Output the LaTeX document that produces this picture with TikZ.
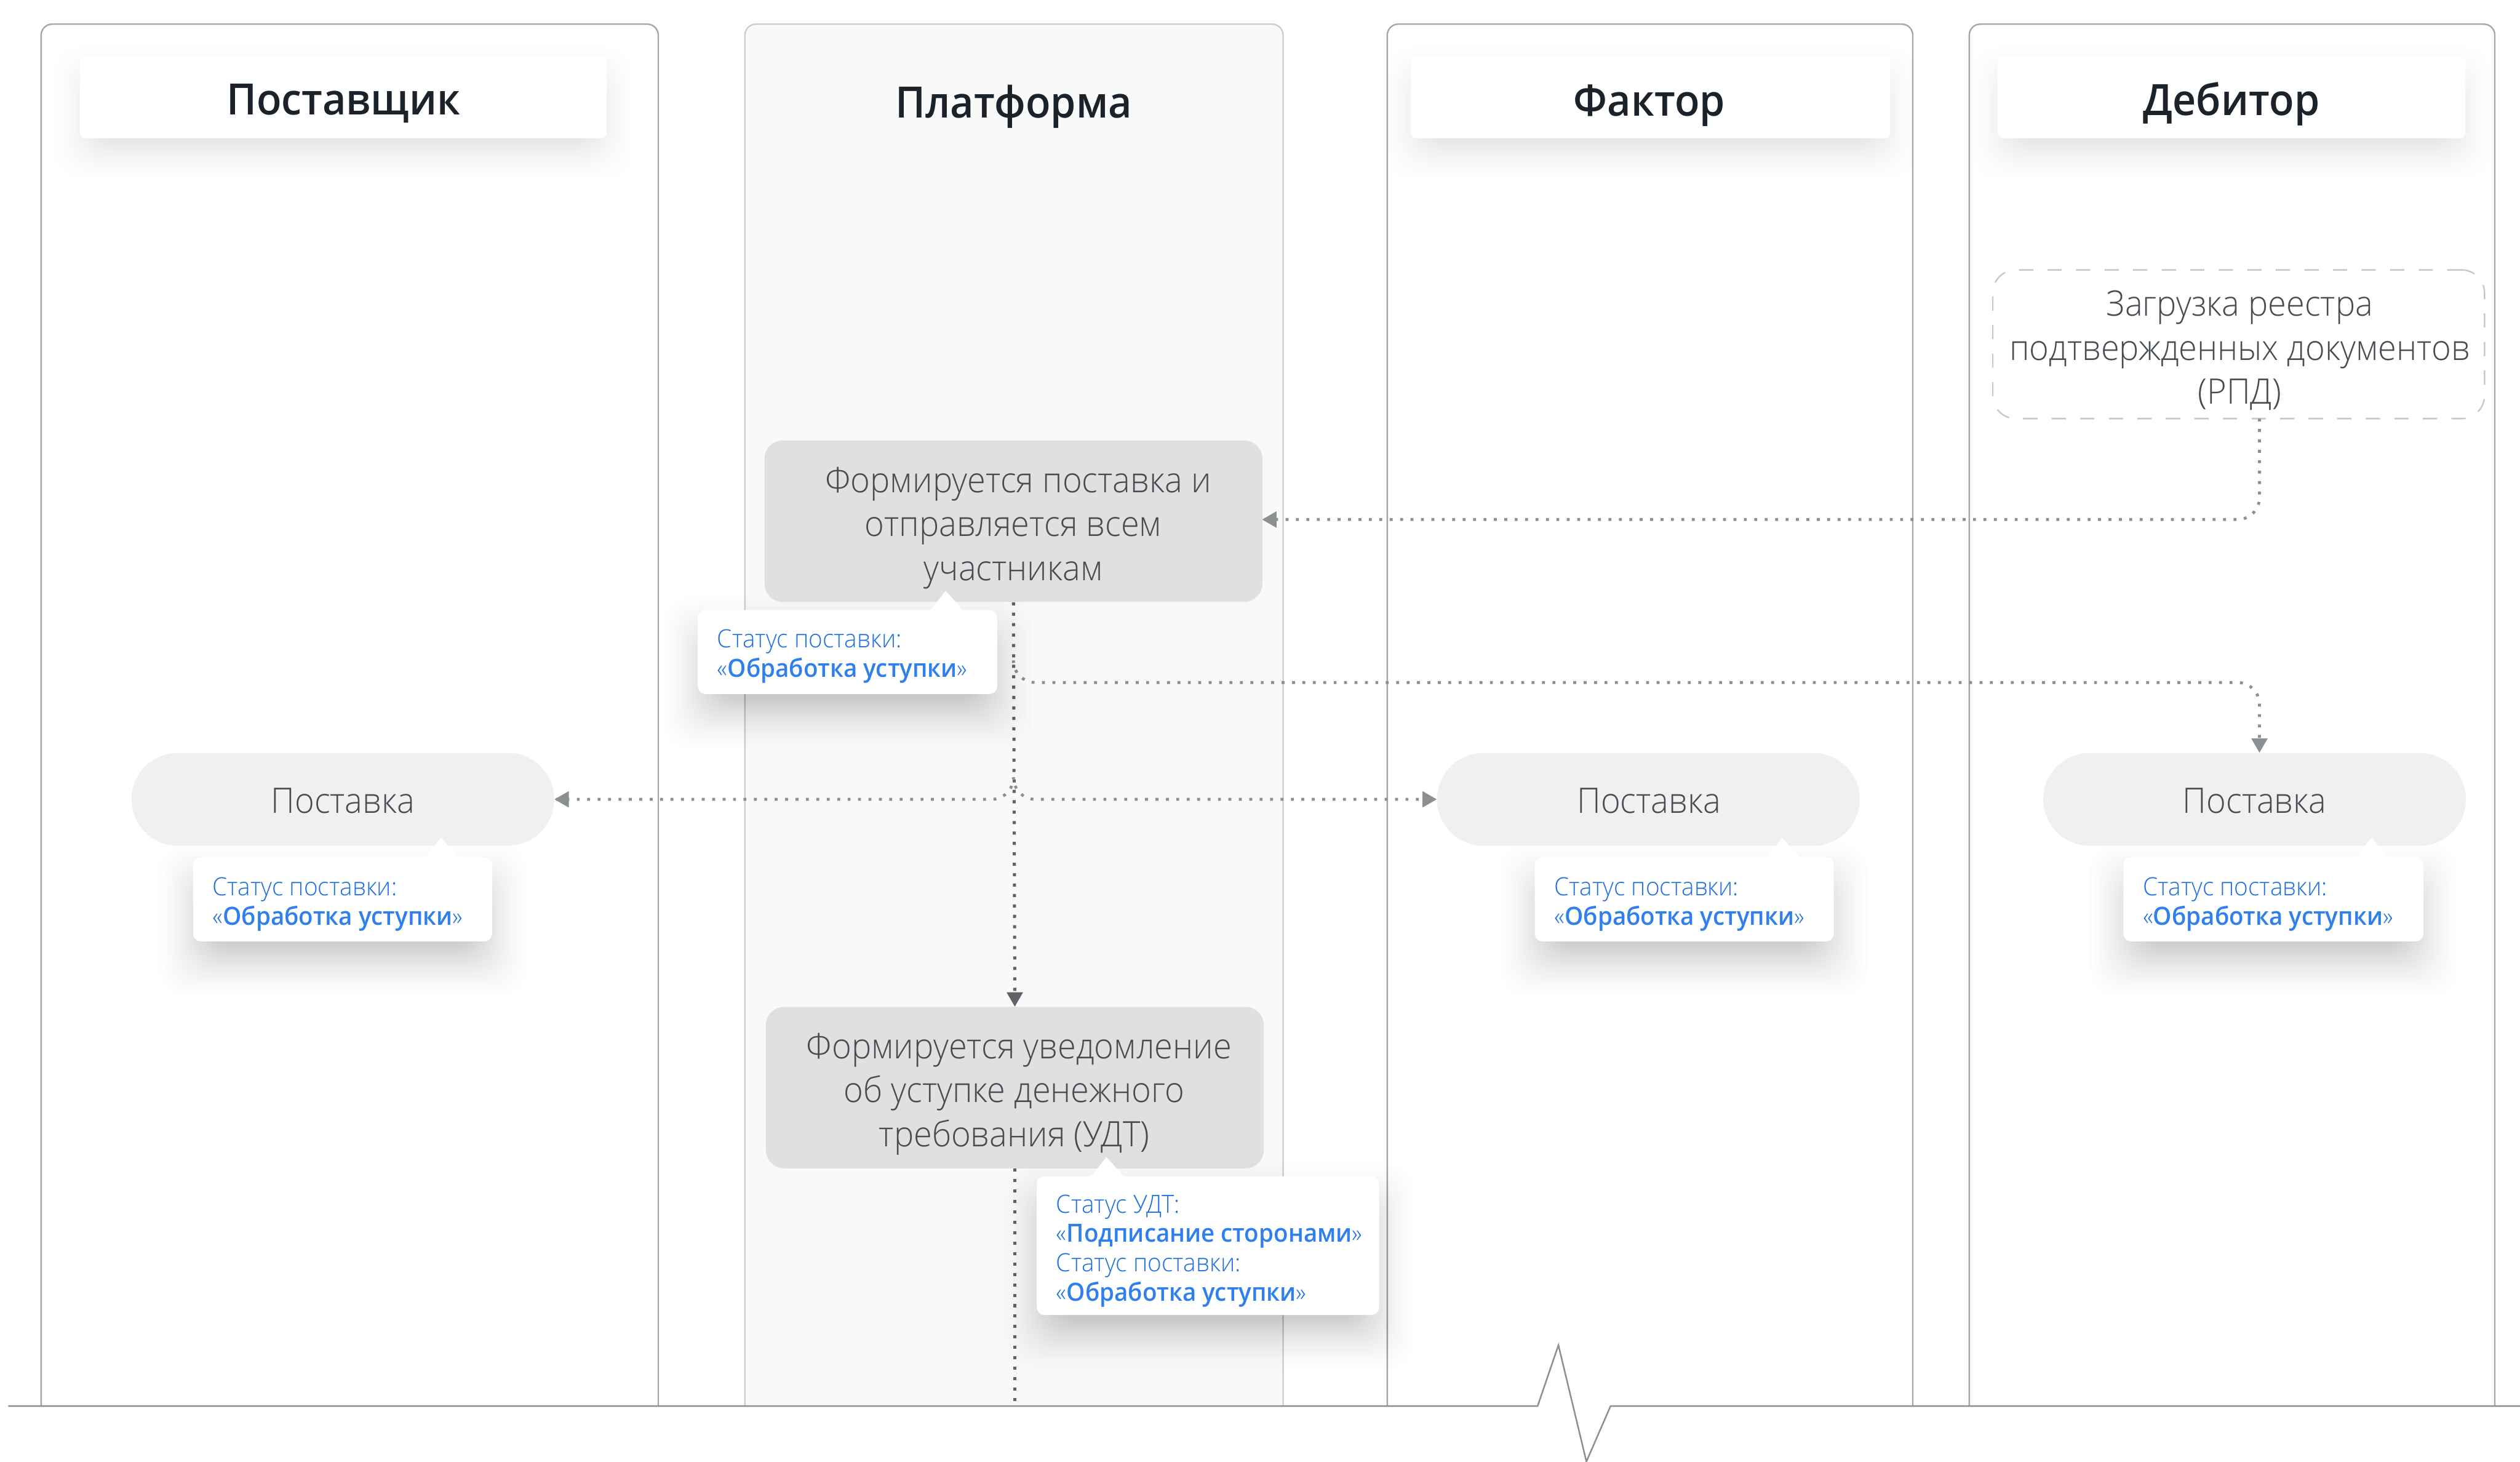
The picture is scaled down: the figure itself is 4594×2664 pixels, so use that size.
\documentclass[tikz,border=0pt]{standalone}
\usepackage{fontspec}
\usetikzlibrary{calc}
\setmainfont{Open Sans}
\newfontfamily\lightf[FakeStretch=0.95]{Open Sans Light}
\newfontfamily\semif[FakeStretch=0.945]{Open Sans Semibold}
\definecolor{lanecol}{HTML}{A4A6A7}
\definecolor{lanecolb}{HTML}{CDCDCD}
\definecolor{lanefill}{HTML}{F9F9F9}
\definecolor{boxfill}{HTML}{E0E0E0}
\definecolor{pillfill}{HTML}{F0F0F0}
\definecolor{dashcol}{HTML}{C8C8C8}
\definecolor{bodytext}{HTML}{464C51}
\definecolor{headtext}{HTML}{1B2229}
\definecolor{bluetext}{HTML}{1F6FE0}
\definecolor{bluesemi}{HTML}{2F7FEC}
\definecolor{dotgray}{HTML}{8C8F91}
\definecolor{dotdark}{HTML}{5F6368}
\tikzset{
  x=0.01cm,y=-0.01cm,
  lane/.style={draw=lanecol,line width=0.75pt,rounded corners=0.2cm},
  headbox/.style={fill=white,rounded corners=0.1cm,minimum width=#1*0.01cm,minimum height=1.5cm,inner sep=0pt},
  headlabel/.style={font=\semif\fontsize{22.4}{26}\selectfont,text=headtext,inner sep=0pt},
  bodylabel/.style={font=\lightf\fontsize{18.2}{22.8}\selectfont,text=bodytext,align=center,inner sep=0pt},
  grayproc/.style={fill=boxfill,rounded corners=0.33cm,minimum width=9.07cm,minimum height=2.94cm,inner sep=0pt},
  dashproc/.style={draw=dashcol,line width=0.75pt,dash pattern=on 7.4pt off 7.4pt,rounded corners=0.42cm,minimum width=8.96cm,minimum height=2.71cm,inner sep=0pt},
  pill/.style={fill=pillfill,rounded corners=0.845cm,minimum width=7.7cm,minimum height=1.69cm,inner sep=0pt},
  calltext/.style={font=\lightf\fontsize{13}{15.2}\selectfont,text=bluetext,align=left,inner sep=0pt,anchor=west},
  dotline/.style={draw=dotgray,line width=1.5pt,dash pattern=on 1.5pt off 3.9pt,rounded corners=0.4cm},
  dotdarkline/.style={draw=dotdark,line width=1.6pt,dash pattern=on 1.6pt off 3.8pt},
  tipgray/.style={fill=dotgray,draw=none},
  tipdark/.style={fill=dotdark,draw=none},
}
% soft shadow: x1 y1 x2 y2 dy spread opacity-per-layer
\newcommand{\softshade}[7]{%
  \foreach \t in {1,...,24}{%
    \pgfmathsetmacro{\ss}{#6-1.33*#6*sqrt(\t/24)}%
    \fill[black,fill opacity=#7,rounded corners=0.5cm]
      (#1-\ss,#2+#5-\ss) rectangle (#3+\ss,#4+#5+\ss);
  }%
}
% callout body: x1 y1 x2 y2 tipx tipy
\newcommand{\callbody}[6]{%
  \softshade{#1}{#2}{#3}{#4}{38}{85}{0.009}%
  \fill[white,rounded corners=0.14cm] (#1,#2) rectangle (#3,#4);
  \fill[white] (#5-34,#2+1) .. controls (#5-27,#2) .. (#5-23,#2-6) -- (#5,#6)
     -- (#5+26,#2-6) .. controls (#5+30,#2) .. (#5+38,#2+1) -- cycle;
}
\newcommand{\hl}[1]{{\semif\color{bluesemi} #1}}
\begin{document}
\begin{tikzpicture}
\useasboundingbox (0,0) rectangle (4594,2664);
\fill[white] (0,0) rectangle (4594,2664);
% lanes
\path[lane] (75,2563) -- (75,44) -- (1200,44) -- (1200,2563);
\path[lane,fill=lanefill,draw=lanecolb] (1358,2563) -- (1358,44) -- (2339,44) -- (2339,2563);
\path[lane] (2529,2563) -- (2529,44) -- (3487,44) -- (3487,2563);
\path[lane] (3590,2563) -- (3590,44) -- (4548,44) -- (4548,2563);
% headers
\softshade{146}{102}{1106}{252}{28}{66}{0.005}
\softshade{2572}{102}{3446}{252}{28}{66}{0.005}
\softshade{3642}{102}{4495}{252}{28}{66}{0.005}
\node[headbox=960] (hsup) at (626,177) {};
\node[headbox=874] (hfac) at (3009,177) {};
\node[headbox=853] (hdeb) at (4068,177) {};
\node[headlabel] (tsup) at (626,189) {Поставщик};
\node[headlabel] (tplat) at (1848,194) {Платформа};
\node[headlabel] (tfac) at (3007,192) {Фактор};
\node[headlabel] (tdeb) at (4068,189) {Дебитор};
% main boxes
\node[grayproc] (form) at (1847.5,950) {};
\node[bodylabel] (formt) at (1847.5,962) {\hspace*{5pt}Формируется поставка и\\отправляется всем\\участникам};
\node[grayproc] (udt) at (1850,1982.5) {};
\node[bodylabel] (udtt) at (1849,1994) {\hspace*{5pt}Формируется уведомление\\об уступке денежного\\требования (УДТ)};
\node[dashproc] (rpd) at (4081,627.5) {};
\node[bodylabel] (rpdt) at (4083,639) {Загрузка реестра\\подтвержденных документов\\(РПД)};
\node[pill] (psup) at (625,1457) {};
\node[bodylabel] (psupt) at (625,1460) {Поставка};
\node[pill] (pfac) at (3005,1457) {};
\node[bodylabel] (pfact) at (3006,1460) {Поставка};
\node[pill] (pdeb) at (4110,1457) {};
\node[bodylabel] (pdebt) at (4110,1460) {Поставка};
% connector junction coordinates
\coordinate (railend) at (1850,2563);
\coordinate (jr1) at (1847.5,1205);
\coordinate (jr2) at (1847.5,1420);
\coordinate (rpdout) at (4119,763);
% gray branches
\draw[dotline] (rpdout) -- (4119,947) -- (form.east |- 0,947);
\draw[dotline] (jr1) -- (1847.5,1244) -- (4119,1244) -- (4119,1350);
\draw[dotline] (jr2) -- (1847.5,1457) -- (pfac.west);
\draw[dotline] (jr2) -- (1847.5,1457) -- (psup.east);
\fill[tipgray] (2301,947) -- (2327,932) -- (2327,962) -- cycle;
\fill[tipgray] (4119,1372) -- (4104,1346) -- (4134,1346) -- cycle;
\fill[tipgray] (pfac.west) -- ++(-26,-15) -- ++(0,30) -- cycle;
\fill[tipgray] (psup.east) -- ++(26,-15) -- ++(0,30) -- cycle;
% dark rail
\draw[dotdarkline] (form.south) -- ($(udt.north)+(0,-24)$);
\fill[tipdark] (udt.north) -- ++(-15,-26) -- ++(30,0) -- cycle;
\draw[dotdarkline] (udt.south) -- (railend);
% callouts
\callbody{352}{1562}{897}{1716}{804}{1527}
\node[calltext] (c1) at (387,1648) {Статус поставки:\\«\hl{Обработка уступки}»};
\callbody{2798}{1562}{3343}{1716}{3249}{1527}
\node[calltext] (c2) at (2833,1648) {Статус поставки:\\«\hl{Обработка уступки}»};
\callbody{3871}{1562}{4418}{1716}{4323}{1527}
\node[calltext] (c3) at (3906,1648) {Статус поставки:\\«\hl{Обработка уступки}»};
\callbody{1272}{1112}{1818}{1265}{1724}{1077}
\node[calltext] (c4) at (1307,1196) {Статус поставки:\\«\hl{Обработка уступки}»};
\callbody{1890}{2144}{2514}{2397}{2017}{2109}
\node[calltext] (c5) at (1925,2280) {Статус УДТ:\\«\hl{Подписание сторонами}»\\Статус поставки:\\«\hl{Обработка уступки}»};
% ground line
\draw[draw=dotgray,line width=0.8pt,line join=miter] (15,2563) -- (2803,2563) -- (2841,2452) -- (2892,2664) -- (2936,2563) -- (4594,2563);
\end{tikzpicture}
\end{document}
